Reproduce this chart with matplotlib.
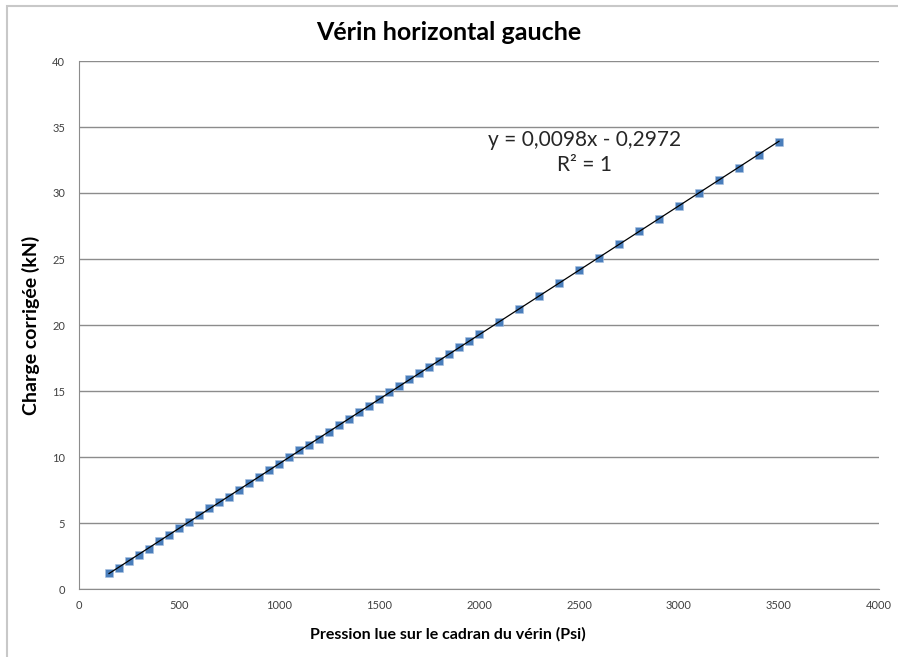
import numpy as np
import matplotlib
matplotlib.use("Agg")
import matplotlib.pyplot as plt
from matplotlib.patches import Rectangle

# Pressure readings on the jack dial (Psi) and corrected load (kN)
pression = [150, 200, 250, 300, 350, 400, 450, 500, 550, 600, 650, 700, 750,
            800, 850, 900, 950, 1000, 1050, 1100, 1150, 1200, 1250, 1300, 1350,
            1400, 1450, 1500, 1550, 1600, 1650, 1700, 1750, 1800, 1850, 1900,
            1950, 2000, 2100, 2200, 2300, 2400, 2500, 2600, 2700, 2800, 2900,
            3000, 3100, 3200, 3300, 3400, 3500]
charge = [1.2, 1.6, 2.1, 2.6, 3.0, 3.6, 4.1, 4.6, 5.1, 5.6, 6.1, 6.6, 7.0,
          7.5, 8.0, 8.5, 9.0, 9.5, 10.0, 10.5, 10.9, 11.4, 11.9, 12.4, 12.9,
          13.4, 13.9, 14.4, 14.9, 15.4, 15.9, 16.4, 16.8, 17.3, 17.8, 18.3,
          18.8, 19.3, 20.2, 21.2, 22.2, 23.2, 24.2, 25.1, 26.1, 27.1, 28.0,
          29.0, 30.0, 31.0, 31.9, 32.9, 33.9]
y_ticks = [0, 5, 10, 15, 20, 25, 30, 35, 40]
x_ticks = [0, 500, 1000, 1500, 2000, 2500, 3000, 3500, 4000]
equation = "y = 0,0098x - 0,2972"
r2_label = "R² = 1"

plt.rcParams["font.family"] = ["Lato", "DejaVu Sans"]

fig = plt.figure(figsize=(8.98, 6.57), dpi=100)
# chart border
fig.patches.append(Rectangle((7 / 898, -0.1), 1.2, 1.1 - 6 / 657,
                             transform=fig.transFigure, fill=False,
                             edgecolor="#c8c8c8", linewidth=1.5))

ax = fig.add_axes([79 / 898, 1 - 589 / 657, 800 / 898, 528 / 657])
ax.set_xlim(0, 4000)
ax.set_ylim(0, 40)
ax.set_xticks(x_ticks)
ax.set_yticks(y_ticks)
ax.tick_params(length=0, labelsize=8, colors="#404040", pad=8)
ax.tick_params(axis="y", pad=10)
ax.grid(axis="y", color="#8c8c8c", linewidth=1)
ax.set_axisbelow(True)
for side in ("top", "right"):
    ax.spines[side].set_visible(False)
for side in ("left", "bottom"):
    ax.spines[side].set_color("#8c8c8c")

ax.scatter(pression, charge, marker="s", s=36, color="#4a7ebb",
           edgecolor="#a9c1e0", linewidth=0.4, zorder=3)

# linear trendline over the measured range
coef = np.polyfit(pression, charge, 1)
xs = np.array([min(pression), max(pression)])
ax.plot(xs, np.polyval(coef, xs), color="black", linewidth=0.9, zorder=4)

ax.text(2527, 34.0, equation, ha="center", va="center", fontsize=15,
        color="#262626")
ax.text(2527, 32.1, r2_label, ha="center", va="center", fontsize=15,
        color="#262626")

fig.text(449 / 898, 1 - 32 / 657, "Vérin horizontal gauche", ha="center",
         va="center", fontsize=18, fontweight="bold")
fig.text(448 / 898, 1 - 634 / 657, "Pression lue sur le cadran du vérin (Psi)",
         ha="center", va="center", fontsize=11.5, fontweight="bold")
ax.set_ylabel("Charge corrigée (kN)", fontsize=14, fontweight="bold",
              labelpad=9)

fig.savefig("out.png", dpi=100)
